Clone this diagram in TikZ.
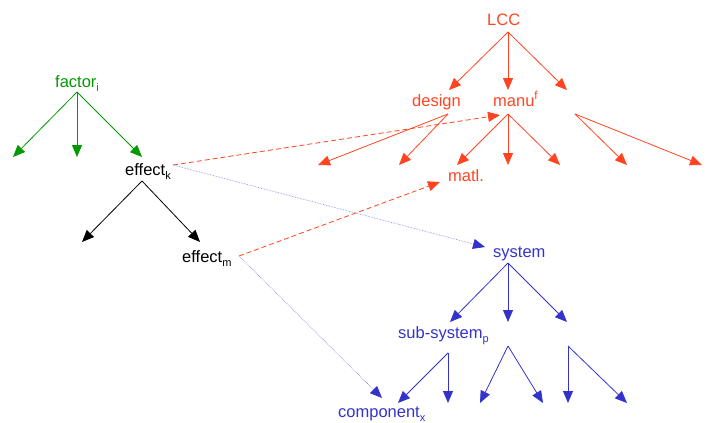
\documentclass[tikz,border=0pt]{standalone}
\usepackage{fontspec}
\setmainfont{Liberation Sans}
\usetikzlibrary{arrows.meta}
\definecolor{lccred}{HTML}{FF4422}
\definecolor{facgreen}{HTML}{009900}
\definecolor{sysblue}{HTML}{3333CC}
\definecolor{dotblue}{HTML}{7777DD}
\newcommand{\lowsub}[1]{\raisebox{-0.25em}{\fontsize{11}{12}\selectfont #1}}
\begin{document}
\begin{tikzpicture}[x=1pt,y=-1pt,
  lbl/.style={font=\fontsize{16.5}{18}\selectfont, inner sep=0pt, anchor=base west},
  tree/.style={-{Triangle[length=12pt,width=10pt]}, line width=0.8pt},
  redlink/.style={-{Triangle[length=12pt,width=10pt]}, line width=0.8pt, lccred, dash pattern=on 5pt off 3pt},
  bluelink/.style={-{Triangle[length=12pt,width=10pt,color=sysblue]}, line width=0.6pt, dotblue, densely dotted}]
\useasboundingbox (0,0) rectangle (710,423);

% labels
\node[lbl, facgreen] (factor) at (55,87) {factor\lowsub{i}};
\node[lbl] (effk) at (125,175) {effect\lowsub{k}};
\node[lbl] (effm) at (182,262) {effect\lowsub{m}};
\node[lbl, lccred] (lcc) at (487,25) {LCC};
\node[lbl, lccred] (design) at (412,106) {design};
\node[lbl, lccred] (manu) at (493,106) {manu\textsuperscript{f}};
\node[lbl, lccred] (matl) at (448,181) {matl.};
\node[lbl, sysblue] (system) at (493,257) {system};
\node[lbl, sysblue] (sub) at (398,338) {sub-system\lowsub{p}};
\node[lbl, sysblue] (comp) at (338,417) {component\lowsub{x}};

% apex coordinates
\coordinate (aF) at (77,92);
\coordinate (aK) at (142,181);
\coordinate (aL) at (508,32);
\coordinate (aD) at (448,114);
\coordinate (aM) at (508,114);
\coordinate (aR) at (575,114);
\coordinate (aS) at (508,263);
\coordinate (aP) at (448,353);
\coordinate (aQ) at (508,346);
\coordinate (aT) at (568,346);

% free ends
\coordinate (f1) at (13,157);
\coordinate (f2) at (77,157);
\coordinate (f3) at (142,157);
\coordinate (k1) at (82,242);
\coordinate (k2) at (200,242);
\coordinate (l1) at (449,90);
\coordinate (l2) at (508,90);
\coordinate (l3) at (567,90);
\coordinate (d1) at (318,165);
\coordinate (d2) at (399,165);
\coordinate (m1) at (457,165);
\coordinate (m2) at (508,165);
\coordinate (m3) at (560,165);
\coordinate (r1) at (627,165);
\coordinate (r2) at (702,165);
\coordinate (s1) at (450,322);
\coordinate (s2) at (508,322);
\coordinate (s3) at (567,322);
\coordinate (p1) at (398,403);
\coordinate (p2) at (448,403);
\coordinate (q1) at (480,403);
\coordinate (q2) at (543,403);
\coordinate (t1) at (568,403);
\coordinate (t2) at (627,403);
\coordinate (eK) at (173,165);
\coordinate (eM) at (239,256);
\coordinate (toManu) at (500,115);
\coordinate (toMatl) at (440,182);
\coordinate (toSys) at (485,247);
\coordinate (toComp) at (382,398);

% factor tree
\draw[tree, facgreen] (aF) -- (f1);
\draw[tree, facgreen] (aF) -- (f2);
\draw[tree, facgreen] (aF) -- (f3);
% effect tree
\draw[tree, black] (aK) -- (k1);
\draw[tree, black] (aK) -- (k2);
% LCC tree
\draw[tree, lccred] (aL) -- (l1);
\draw[tree, lccred] (aL) -- (l2);
\draw[tree, lccred] (aL) -- (l3);
\draw[tree, lccred] (aD) -- (d1);
\draw[tree, lccred] (aD) -- (d2);
\draw[tree, lccred] (aM) -- (m1);
\draw[tree, lccred] (aM) -- (m2);
\draw[tree, lccred] (aM) -- (m3);
\draw[tree, lccred] (aR) -- (r1);
\draw[tree, lccred] (aR) -- (r2);
% system tree
\draw[tree, sysblue] (aS) -- (s1);
\draw[tree, sysblue] (aS) -- (s2);
\draw[tree, sysblue] (aS) -- (s3);
\draw[tree, sysblue] (aP) -- (p1);
\draw[tree, sysblue] (aP) -- (p2);
\draw[tree, sysblue] (aQ) -- (q1);
\draw[tree, sysblue] (aQ) -- (q2);
\draw[tree, sysblue] (aT) -- (t1);
\draw[tree, sysblue] (aT) -- (t2);
% cross links
\draw[redlink] (eK) -- (toManu);
\draw[redlink] (eM) -- (toMatl);
\draw[bluelink] (eK) -- (toSys);
\draw[bluelink] (eM) -- (toComp);
\end{tikzpicture}
\end{document}
